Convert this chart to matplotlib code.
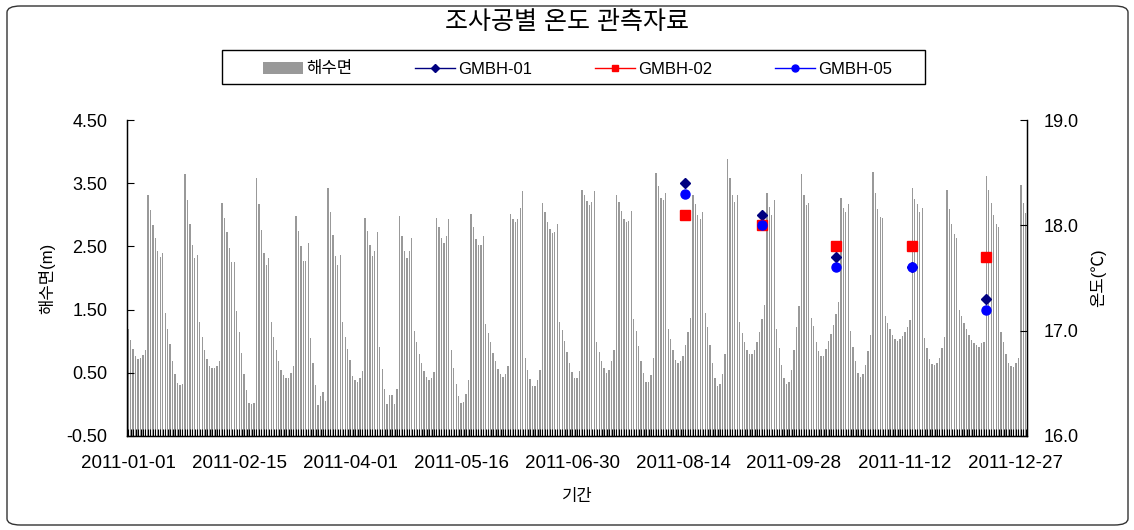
import matplotlib
matplotlib.use("Agg")
import matplotlib.pyplot as plt
from matplotlib.lines import Line2D
from matplotlib.patches import Patch, FancyBboxPatch, Rectangle
import numpy as np
import pandas as pd

plt.rcParams['font.family'] = ['Liberation Sans', 'Noto Sans CJK KR', 'DejaVu Sans']

# daily sea level (m), 2011-01-01 .. 2011-12-31
sea_level = [
    1.20, 1.02, 0.87, 0.77, 0.72, 0.73, 0.78, 0.86, 3.32, 3.08,
    2.84, 2.63, 2.43, 2.34, 2.39, 1.45, 1.20, 0.95, 0.69, 0.48,
    0.34, 0.30, 0.32, 3.64, 3.24, 2.86, 2.52, 2.32, 2.36, 1.30,
    1.07, 0.86, 0.72, 0.60, 0.57, 0.57, 0.61, 0.68, 3.18, 2.95,
    2.72, 2.47, 2.26, 2.26, 1.48, 1.15, 0.82, 0.48, 0.23, 0.03,
    0.01, 0.03, 3.58, 3.17, 2.76, 2.39, 2.20, 2.31, 1.30, 1.06,
    0.86, 0.69, 0.55, 0.46, 0.41, 0.42, 0.49, 0.60, 2.98, 2.74,
    2.50, 2.27, 2.27, 2.56, 1.05, 0.66, 0.31, -0.01, 0.14, 0.19,
    0.06, 3.42, 3.05, 2.68, 2.35, 2.21, 2.36, 1.30, 1.07, 0.87,
    0.71, 0.45, 0.39, 0.36, 0.41, 0.53, 2.95, 2.74, 2.52, 2.35,
    2.43, 2.73, 0.91, 0.56, 0.24, 0.01, 0.15, 0.15, 0.01, 0.24,
    2.98, 2.66, 2.43, 2.32, 2.43, 2.64, 1.16, 0.98, 0.79, 0.66,
    0.53, 0.44, 0.39, 0.42, 0.51, 2.95, 2.80, 2.64, 2.56, 2.66,
    2.93, 0.86, 0.57, 0.32, 0.13, 0.03, 0.04, 0.17, 0.39, 3.02,
    2.80, 2.61, 2.52, 2.52, 2.66, 1.28, 1.13, 0.98, 0.82, 0.68,
    0.56, 0.48, 0.44, 0.48, 0.60, 3.02, 2.93, 2.89, 2.93, 3.10,
    3.37, 0.74, 0.54, 0.40, 0.29, 0.29, 0.39, 0.54, 3.18, 3.04,
    2.89, 2.77, 2.71, 2.73, 2.86, 1.31, 1.18, 1.01, 0.83, 0.66,
    0.51, 0.41, 0.41, 0.53, 3.40, 3.31, 3.22, 3.15, 3.21, 3.37,
    0.98, 0.83, 0.68, 0.57, 0.50, 0.55, 0.68, 0.86, 3.32, 3.21,
    3.06, 2.94, 2.88, 2.90, 3.06, 1.35, 1.16, 0.92, 0.69, 0.49,
    0.36, 0.36, 0.47, 0.73, 3.66, 3.46, 3.27, 3.23, 3.35, 1.19,
    1.03, 0.86, 0.71, 0.66, 0.69, 0.77, 0.94, 1.15, 1.37, 3.32,
    3.17, 3.00, 2.93, 3.05, 1.45, 1.22, 0.94, 0.66, 0.41, 0.29,
    0.32, 0.48, 0.80, 3.88, 3.59, 3.31, 3.21, 3.32, 1.31, 1.13,
    0.98, 0.86, 0.80, 0.80, 0.86, 0.98, 1.15, 1.35, 1.57, 3.34,
    3.13, 2.99, 3.24, 1.19, 0.90, 0.62, 0.42, 0.32, 0.36, 0.55,
    0.86, 1.22, 1.55, 3.64, 3.31, 3.15, 3.18, 1.37, 1.24, 0.99,
    0.84, 0.76, 0.77, 0.87, 1.00, 1.11, 1.26, 1.43, 1.62, 3.26,
    3.10, 3.05, 3.17, 1.16, 0.91, 0.69, 0.50, 0.44, 0.48, 0.62,
    0.84, 1.10, 3.67, 3.34, 3.09, 2.97, 2.95, 1.40, 1.29, 1.19,
    1.10, 1.03, 1.00, 1.03, 1.08, 1.15, 1.23, 1.33, 3.42, 3.25,
    3.17, 3.05, 3.10, 1.05, 0.89, 0.72, 0.64, 0.62, 0.66, 0.74,
    0.89, 1.06, 3.39, 3.09, 2.85, 2.69, 2.63, 1.50, 1.40, 1.29,
    1.19, 1.10, 1.02, 0.97, 0.94, 0.91, 0.97, 0.99, 3.61, 3.40,
    3.18, 2.99, 2.85, 2.80, 1.15, 0.98, 0.80, 0.66, 0.60, 0.59,
    0.65, 0.74, 3.47, 3.19, 3.03,
]

# monthly borehole temperature readings (deg C)
obs_dates = ['2011-08-15', '2011-09-15', '2011-10-15', '2011-11-15', '2011-12-15']
gmbh_01 = [18.4, 18.1, 17.7, 17.6, 17.3]
gmbh_02 = [18.1, 18.0, 17.8, 17.8, 17.7]
gmbh_05 = [18.3, 18.0, 17.6, 17.6, 17.2]

days = pd.date_range('2011-01-01', periods=len(sea_level), freq='D')
obs = pd.to_datetime(obs_dates)

W, H = 1134, 530
fig = plt.figure(figsize=(W / 100, H / 100), dpi=100)
ax = fig.add_axes([127 / W, 1 - 436 / H, 900 / W, 316 / H])

base = -0.5
heights = np.array(sea_level) - base
ax.bar(days, heights, bottom=base, width=0.55, color='#999999', linewidth=0)

ax.set_ylim(-0.5, 4.5)
yt = np.arange(-0.5, 4.51, 1.0)
ax.set_yticks(yt)
ax.set_yticklabels([f'{v:.2f}' for v in yt])
ax.set_xlim(days[0] - pd.Timedelta(hours=12), days[-1] + pd.Timedelta(hours=12))
ax.set_xticks(days[::45])
ax.set_xticklabels([d.strftime('%Y-%m-%d') for d in days[::45]])
ax.set_xticks(days, minor=True)
ax.tick_params(axis='x', which='both', direction='in', length=5, width=0.8,
               color='black', pad=14, labelsize=13.5)
ax.tick_params(axis='y', direction='in', length=5, width=0.8, pad=14, labelsize=13)
ax.spines['top'].set_visible(False)
for s in ['left', 'right', 'bottom']:
    ax.spines[s].set_color('black')
    ax.spines[s].set_linewidth(1.0)
ax.set_ylabel('해수면(m)', fontsize=12, labelpad=8)
ax.set_xlabel('기간', fontsize=12, labelpad=12)

ax2 = ax.twinx()
ax2.plot(obs, gmbh_01, linestyle='none', marker='D', markersize=5.5, color='#000080')
ax2.plot(obs, gmbh_02, linestyle='none', marker='s', markersize=6.5, color='#FF0000')
ax2.plot(obs, gmbh_05, linestyle='none', marker='o', markersize=6.5, color='#0000FF')
ax2.set_ylim(16, 19)
ax2.set_yticks([16, 17, 18, 19])
ax2.set_yticklabels(['16.0', '17.0', '18.0', '19.0'])
ax2.tick_params(axis='y', direction='in', length=5, width=0.8, pad=12, labelsize=13)
ax2.spines['top'].set_visible(False)
ax2.set_ylabel('온도(℃)', fontsize=12, labelpad=8, rotation=90)

fig.text(0.5, 1 - 22 / H, '조사공별 온도 관측자료', ha='center', va='center', fontsize=18)

# legend box with the entries spread across it
fig.patches.append(Rectangle((222 / W, 1 - 84 / H), 703 / W, 34 / H,
                             transform=fig.transFigure, fill=False,
                             edgecolor='black', linewidth=1.0))
handles = [
    Patch(facecolor='#999999', edgecolor='none'),
    Line2D([], [], color='#000080', marker='D', markersize=4, linewidth=1),
    Line2D([], [], color='#FF0000', marker='s', markersize=5, linewidth=1),
    Line2D([], [], color='#0000FF', marker='o', markersize=5, linewidth=1),
]
fig.legend(handles, ['해수면', 'GMBH-01', 'GMBH-02', 'GMBH-05'],
           loc='lower left', bbox_to_anchor=(255 / W, 1 - 84 / H, 645 / W, 34 / H),
           mode='expand', ncol=4, fontsize=12, frameon=False,
           handlelength=2.4, handletextpad=0.2, borderaxespad=0, borderpad=0.45)

border = FancyBboxPatch((7 / W, 5 / H), 1121 / W, 519 / H,
                        boxstyle='round,pad=0,rounding_size=0.012',
                        transform=fig.transFigure, fill=False,
                        edgecolor='#333333', linewidth=1.0)
fig.patches.append(border)

fig.savefig('out.png', dpi=100)
